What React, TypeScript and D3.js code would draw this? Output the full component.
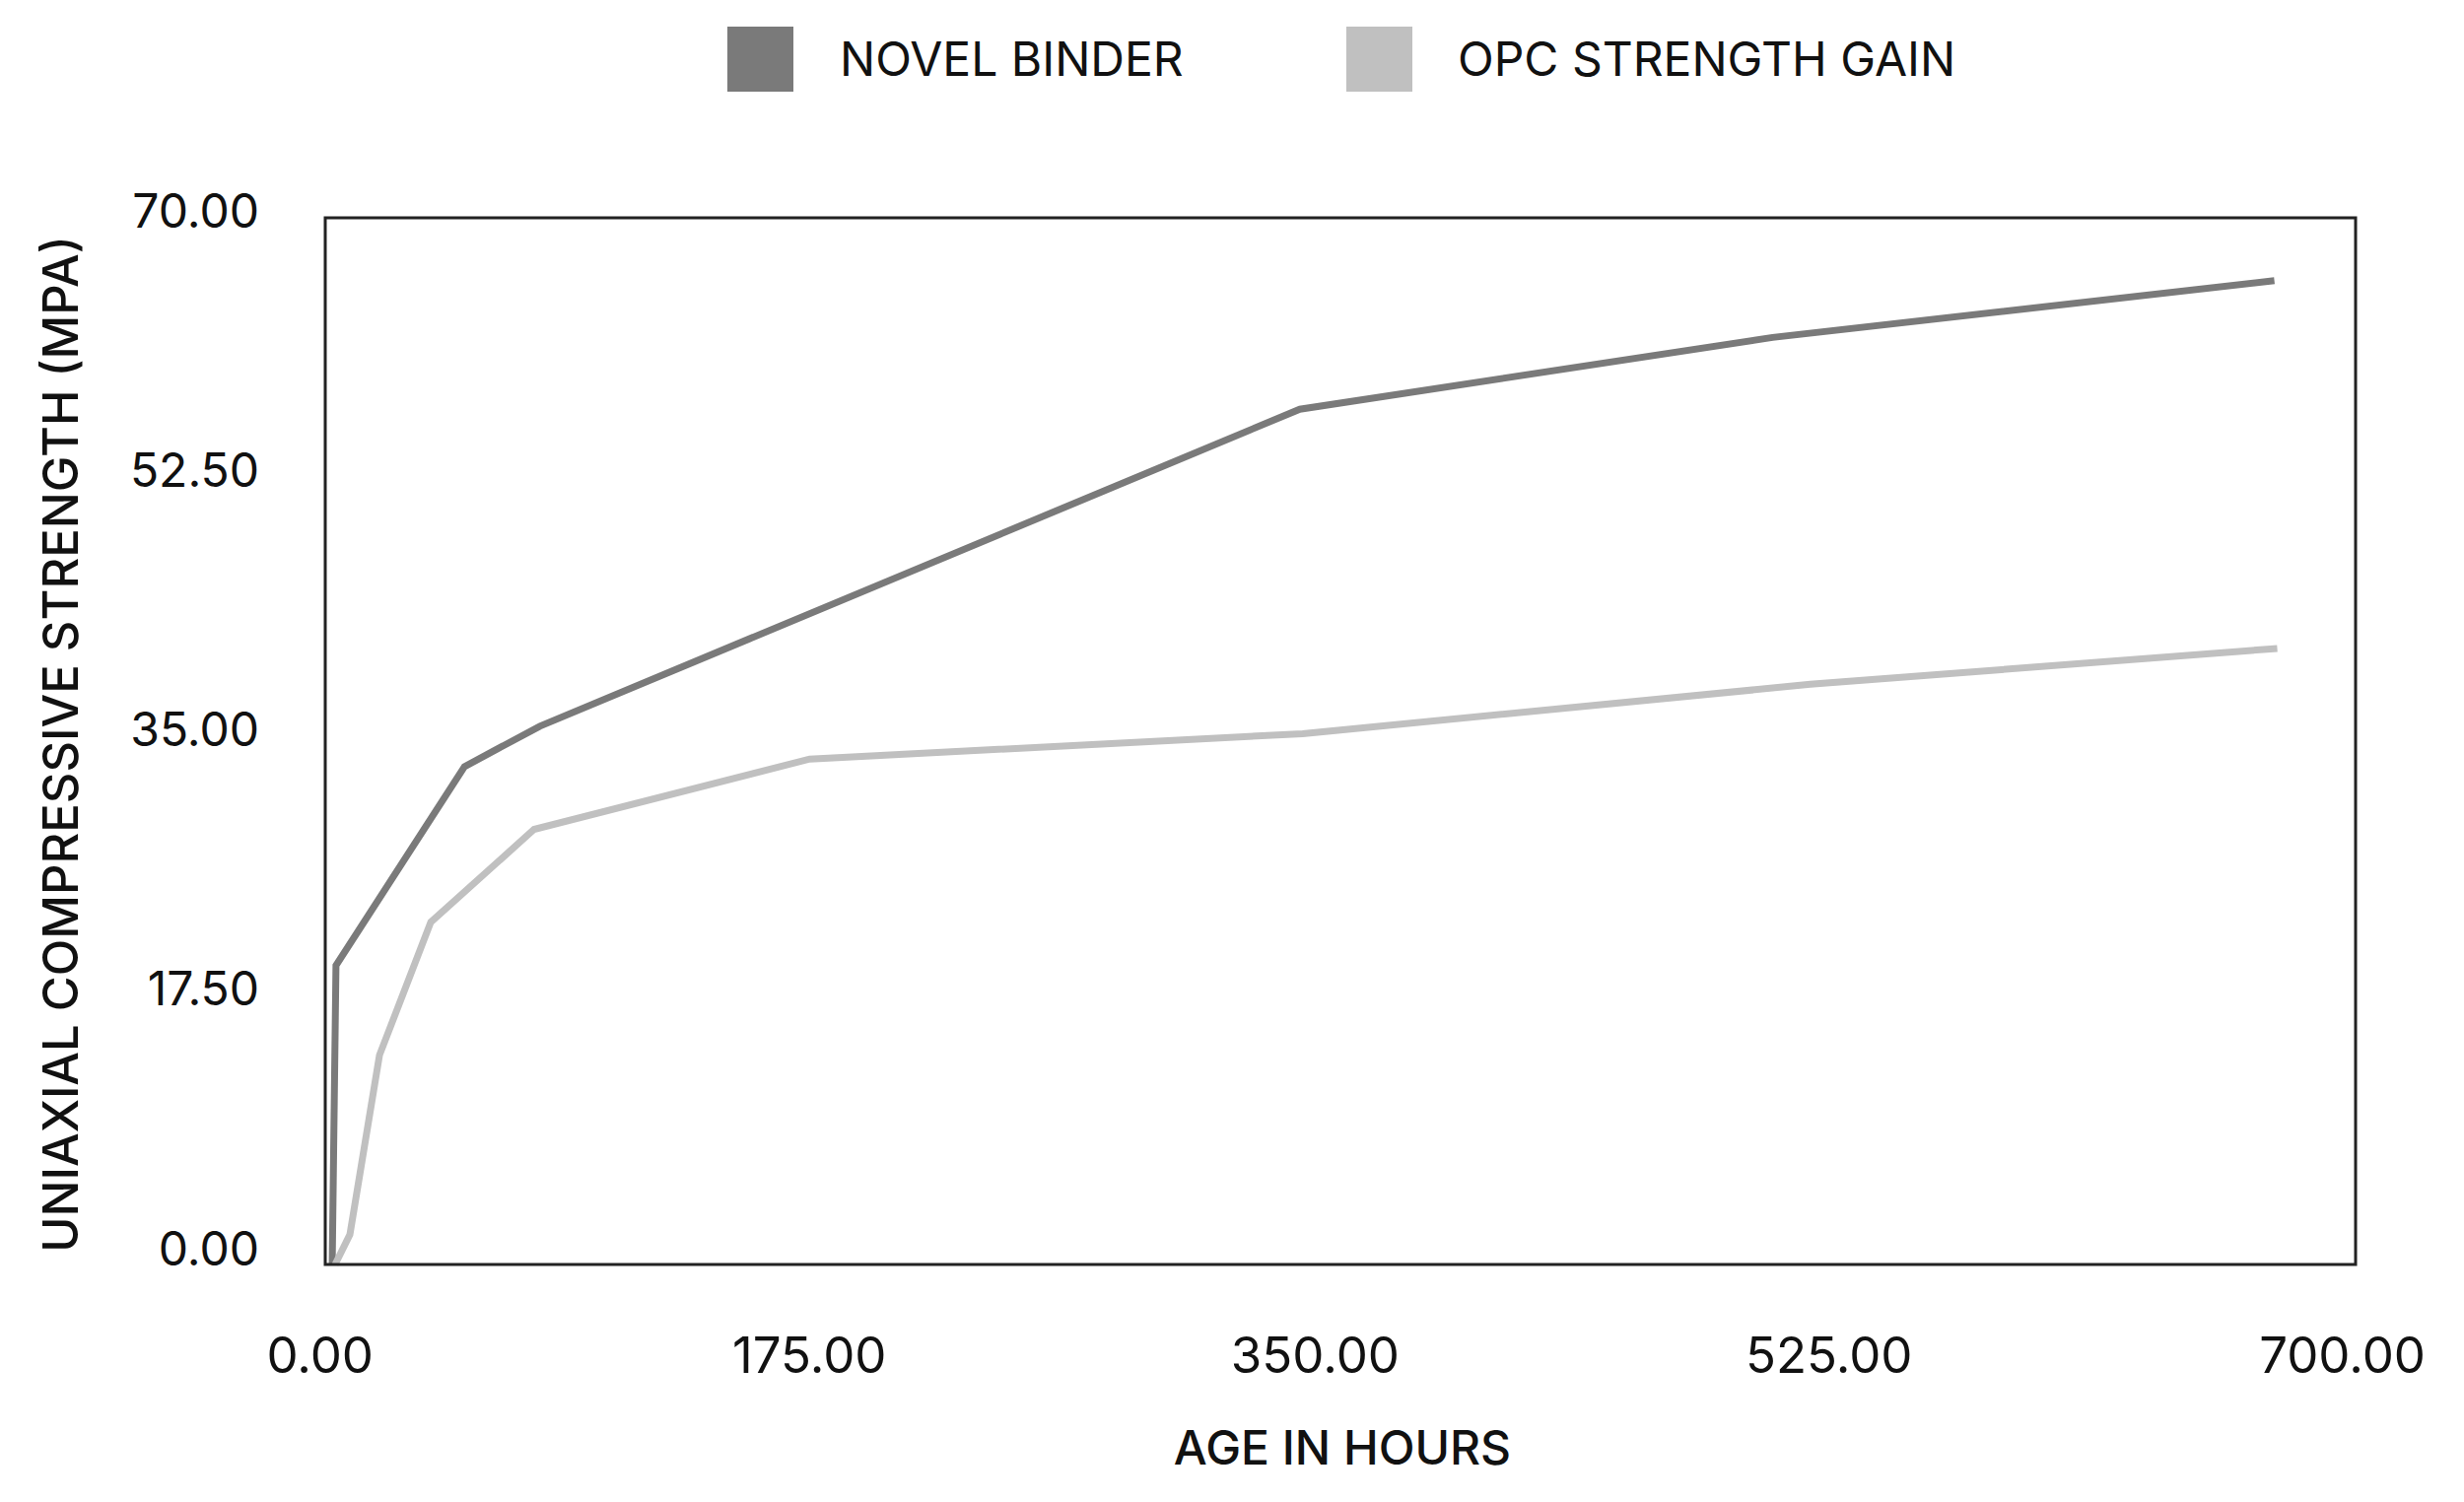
import React from "react";
import * as d3 from "d3";

const novelHours = [2.4, 3.7, 48, 74, 336, 499, 672];
const novelStrength = [0, 20.0, 33.3, 36.0, 57.2, 62.0, 65.8];

const opcHours = [3.4, 8.5, 18.7, 36.4, 72, 167, 337, 512, 673];
const opcStrength = [0, 2.0, 14.0, 22.9, 29.1, 33.8, 35.5, 38.8, 41.2];

const xTicks = [0, 175, 350, 525, 700];
const yTicks = [0, 17.5, 35, 52.5, 70];

const seriesNames = ["NOVEL BINDER", "OPC STRENGTH GAIN"];
const seriesColors = ["#7a7a7a", "#c0c0c0"];

const xTitle = "AGE IN HOURS";
const yTitle = "UNIAXIAL COMPRESSIVE STRENGTH (MPA)";

const W = 2500;
const H = 1524;
const M = { left: 330, right: 110, top: 221, bottom: 241 };
const FONT = "Inter, 'Noto Sans', sans-serif";

export default function App() {
  const x = d3.scaleLinear().domain([0, 700]).range([M.left, W - M.right]);
  const y = d3.scaleLinear().domain([0, 70]).range([H - M.bottom, M.top]);
  // tick labels in the reference sit on a slightly different grid than the frame
  const xLabel = d3.scaleLinear().domain([0, 700]).range([379, 2461]);
  const yLabel = d3.scaleLinear().domain([0, 70]).range([1266, 213]);

  const line = d3
    .line<[number, number]>()
    .x((d) => x(d[0]))
    .y((d) => y(d[1]));

  const novel: [number, number][] = novelHours.map((h, i) => [h, novelStrength[i]]);
  const opc: [number, number][] = opcHours.map((h, i) => [h, opcStrength[i]]);
  const series = [novel, opc];

  const legendX = [738, 1366];
  const legendTextX = [852, 1479];

  return (
    <svg
      width={W}
      height={H}
      style={{ position: "absolute", left: 0, top: 0, background: "#fff" }}
      fontFamily={FONT}
    >
      <rect x={0} y={0} width={W} height={H} fill="#fff" />
      {/* legend */}
      {seriesNames.map((name, i) => (
        <g key={name}>
          <rect x={legendX[i]} y={27} width={67} height={66} fill={seriesColors[i]} />
          <text
            x={legendTextX[i]}
            y={59}
            dominantBaseline="central"
            fontSize={48}
            fill="#111"
          >
            {name}
          </text>
        </g>
      ))}

      {/* lines */}
      {series.map((s, i) => (
        <path
          key={i}
          d={line(s) || ""}
          fill="none"
          stroke={seriesColors[i]}
          strokeWidth={7}
          strokeLinejoin="miter"
          strokeLinecap="butt"
        />
      ))}

      {/* frame */}
      <rect
        x={x(0)}
        y={y(70)}
        width={x(700) - x(0)}
        height={y(0) - y(70)}
        fill="none"
        stroke="#222"
        strokeWidth={3}
      />

      {/* y ticks */}
      {yTicks.map((t) => (
        <text
          key={t}
          x={263}
          y={yLabel(t)}
          textAnchor="end"
          dominantBaseline="central"
          fontSize={48}
          fill="#111"
        >
          {t.toFixed(2)}
        </text>
      ))}

      {/* x ticks */}
      {xTicks.map((t) => (
        <text
          key={t}
          x={xLabel(t)}
          y={1374}
          textAnchor="end"
          dominantBaseline="central"
          fontSize={51}
          fill="#111"
        >
          {t.toFixed(2)}
        </text>
      ))}

      {/* axis titles */}
      <text
        x={1362}
        y={1468}
        textAnchor="middle"
        dominantBaseline="central"
        fontSize={48}
        fontWeight={500}
        fill="#111"
      >
        {xTitle}
      </text>
      <text
        transform={`translate(61, 755) rotate(-90)`}
        textAnchor="middle"
        dominantBaseline="central"
        fontSize={49}
        fontWeight={500}
        fill="#111"
      >
        {yTitle}
      </text>
    </svg>
  );
}
